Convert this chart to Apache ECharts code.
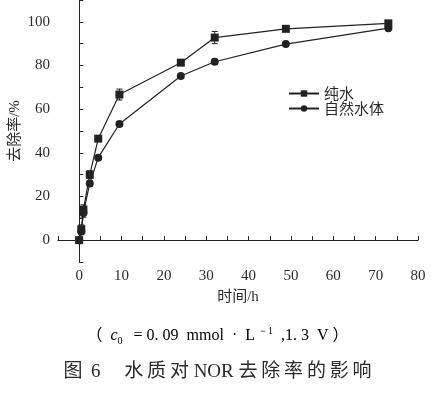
<!DOCTYPE html>
<html><head><meta charset="utf-8">
<script src="https://cdn.jsdelivr.net/npm/echarts@6/dist/echarts.min.js"></script>
<style>html,body{margin:0;padding:0;background:#fff}#c{width:435px;height:394px}</style>
</head><body><div id="c"></div>
<script>
const timeX = [0, 0.5, 1, 2.5, 4.5, 9.5, 24, 32, 48.8, 73];
const pureY = [0, 5, 14, 30, 46.5, 66.7, 81.3, 92.8, 96.8, 99.3];
const pureErr = [0.8, 2, 2.2, 1.8, 0.8, 2.5, 0.8, 2.8, 1, 1.2];
const natY = [0, 4, 12.5, 26, 37.8, 53.2, 75.2, 81.7, 89.8, 97.1];
const natErr = [0.8, 1.5, 2, 1.2, 0.8, 0.8, 0.8, 1.2, 0.6, 0.8];
const xTicks = [0, 10, 20, 30, 40, 50, 60, 70, 80];
const yTicks = [0, 20, 40, 60, 80, 100];
const seriesNames = ['纯水', '自然水体'];

const serif = '"Liberation Serif","DejaVu Serif",serif';
const cjk = '"Liberation Serif","Noto Sans CJK SC",serif';
const textColor = '#2a2a2a';
const capColor = '#3a2a1e';
const T = '\u2009';

function errData(ys, es) { return timeX.map((x, i) => [x, ys[i] - es[i], ys[i] + es[i]]); }
function errRender(params, api) {
  const x = api.value(0), lo = api.value(1), hi = api.value(2);
  const p1 = api.coord([x, lo]), p2 = api.coord([x, hi]);
  const w = 3;
  const st = { stroke: '#222', lineWidth: 1 };
  return { type: 'group', children: [
    { type: 'line', shape: { x1: p1[0], y1: p1[1], x2: p2[0], y2: p2[1] }, style: st },
    { type: 'line', shape: { x1: p1[0]-w, y1: p1[1], x2: p1[0]+w, y2: p1[1] }, style: st },
    { type: 'line', shape: { x1: p2[0]-w, y1: p2[1], x2: p2[0]+w, y2: p2[1] }, style: st }
  ]};
}

const chart = echarts.init(document.getElementById('c'), null, { renderer: 'canvas' });
chart.setOption({
  animation: false,
  backgroundColor: '#fff',
  grid: { left: 58, right: 17, top: 0, bottom: 132, containLabel: false, outerBoundsMode: 'none' },
  legend: {
    data: seriesNames, orient: 'vertical', left: 283, top: 81, itemGap: 0,
    itemWidth: 30, itemHeight: 8,
    textStyle: { fontFamily: '"Noto Sans CJK SC",sans-serif', fontSize: 15, lineHeight: 14, color: textColor }
  },
  xAxis: {
    type: 'value', min: -5, max: 80, interval: 5,
    name: '时间/h', nameLocation: 'middle', nameGap: 28, nameMoveOverlap: false,
    nameTextStyle: { fontFamily: cjk, fontSize: 15, color: textColor },
    axisLine: { show: true, lineStyle: { color: '#222', width: 1 } },
    axisTick: { show: true, inside: true, length: 4, lineStyle: { color: '#222' } },
    axisLabel: { margin: 7, fontFamily: serif, fontSize: 15, color: textColor,
      formatter: v => xTicks.includes(v) ? String(v) : '' },
    splitLine: { show: false }
  },
  yAxis: {
    type: 'value', min: -10, max: 110, interval: 10,
    name: '去除率/%', nameLocation: 'middle', nameGap: 35, nameRotate: 90, nameMoveOverlap: false,
    nameTextStyle: { fontFamily: cjk, fontSize: 15, color: textColor },
    axisLine: { show: true, lineStyle: { color: '#222', width: 1 } },
    axisTick: { show: true, inside: true, length: 4, lineStyle: { color: '#222' } },
    axisLabel: { margin: 8, fontFamily: serif, fontSize: 15, color: textColor,
      formatter: v => yTicks.includes(v) ? String(v) : '' },
    splitLine: { show: false }
  },
  series: [
    { name: seriesNames[0], type: 'line', data: timeX.map((x, i) => [x, pureY[i]]),
      symbol: 'rect', symbolSize: 8, lineStyle: { color: '#222', width: 1.2 },
      itemStyle: { color: '#222' }, z: 3 },
    { name: seriesNames[1], type: 'line', data: timeX.map((x, i) => [x, natY[i]]),
      symbol: 'circle', symbolSize: 8, lineStyle: { color: '#222', width: 1.2 },
      itemStyle: { color: '#222' }, z: 3 },
    { type: 'custom', renderItem: errRender, data: errData(pureY, pureErr), encode: { x: 0, y: [1, 2] }, z: 2, silent: true },
    { type: 'custom', renderItem: errRender, data: errData(natY, natErr), encode: { x: 0, y: [1, 2] }, z: 2, silent: true }
  ],
  graphic: [
    { type: 'text', left: 'center', top: 326,
      style: {
        text: '{n|（  }{i|c}{sub|0}{n|  = 0. 09  mmol  ·  L}{sup|－1}{n|  ,1. 3  V ）}',
        rich: {
          n: { fontFamily: cjk, fontSize: 16, color: capColor, lineHeight: 20, verticalAlign: 'middle' },
          i: { fontFamily: serif, fontStyle: 'italic', fontSize: 16, color: capColor, lineHeight: 20 },
          sub: { fontFamily: serif, fontSize: 10, color: capColor, lineHeight: 20, verticalAlign: 'bottom', padding: [8, 3, 0, 0] },
          sup: { fontFamily: serif, fontSize: 10, color: capColor, lineHeight: 20, verticalAlign: 'top', padding: [0, 0, 8, 3] }
        }
      }
    },
    { type: 'text', left: 'center', top: 363,
      style: { text: '图' + T + ' 6\u3000 水' + T + '质' + T + '对 NOR 去' + T + '除' + T + '率' + T + '的' + T + '影' + T + '响',
        fontFamily: cjk, fontSize: 19, fill: '#2a2a2a' } }
  ]
});
</script></body></html>
